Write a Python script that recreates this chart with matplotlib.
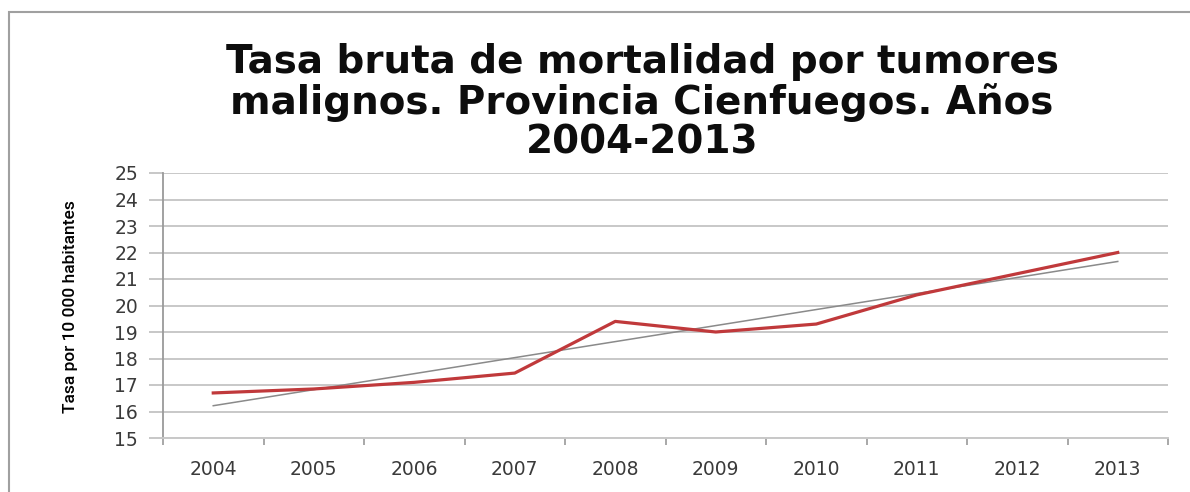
import matplotlib.pyplot as plt
import matplotlib.patches as patches
import numpy as np

years = ['2004', '2005', '2006', '2007', '2008', '2009', '2010', '2011', '2012', '2013']
tasa = [16.7, 16.85, 17.1, 17.45, 19.4, 19.0, 19.3, 20.4, 21.2, 22.0]
yticks = [15, 16, 17, 18, 19, 20, 21, 22, 23, 24, 25]

title = 'Tasa bruta de mortalidad por tumores\nmalignos. Provincia Cienfuegos. Años\n2004-2013'
ylabel = 'Tasa por 10 000 habitantes'

fig = plt.figure(figsize=(11.9, 4.92), dpi=100)
ax = fig.add_axes([163/1190, 54/492, 1005/1190, 265/492])

x = np.arange(len(years))
# linear trend line, as the spreadsheet draws it
coef = np.polyfit(x, tasa, 1)
ax.plot(x, np.polyval(coef, x), color='#8a8a8a', lw=1.1, zorder=3)
ax.plot(x, tasa, color='#c0393b', lw=2.3, zorder=4)

ax.set_xlim(-0.5, len(years) - 0.5)
ax.set_ylim(15, 25)
ax.set_yticks(yticks)
ax.set_xticks(x)
ax.set_xticklabels(years)
ax.set_xticks(np.arange(-0.5, len(years)), minor=True)
ax.tick_params(axis='x', which='major', length=0, pad=16)
ax.tick_params(axis='x', which='minor', length=5, color='#9a9a9a', width=1.2)
ax.tick_params(axis='y', length=10, color='#bdbdbd', width=1.2, pad=8)
ax.tick_params(labelsize=13.5, labelcolor='#3a3a3a')
for lab in ax.get_xticklabels() + ax.get_yticklabels():
    lab.set_family('DejaVu Sans')

ax.grid(axis='y', color='#c8c8c8', lw=1.4)
ax.set_axisbelow(True)
for s in ['top', 'right']:
    ax.spines[s].set_visible(False)
ax.spines['left'].set_color('#9a9a9a')
ax.spines['left'].set_linewidth(1.3)
ax.spines['bottom'].set_color('#c8c8c8')
ax.spines['bottom'].set_linewidth(1.4)

fig.text(70/1190, 1 - 307/492, ylabel, rotation=90, ha='center', va='center',
         fontsize=12.5, family=['Liberation Sans Narrow', 'Roboto', 'DejaVu Sans'],
         fontweight='medium', color='#000000')

fig.text(642/1190, 1 - 102/492, title, ha='center', va='center', fontsize=28,
         fontweight='bold', family='DejaVu Sans', linespacing=1.06, color='#0d0d0d')

# outer chart frame
fig.patches.append(patches.Rectangle((9/1190, -0.1), 1.2, 1 - 12/492 + 0.1,
                                     transform=fig.transFigure, fill=False,
                                     edgecolor='#a0a0a0', lw=1.5))

fig.savefig('out.png', dpi=100)
